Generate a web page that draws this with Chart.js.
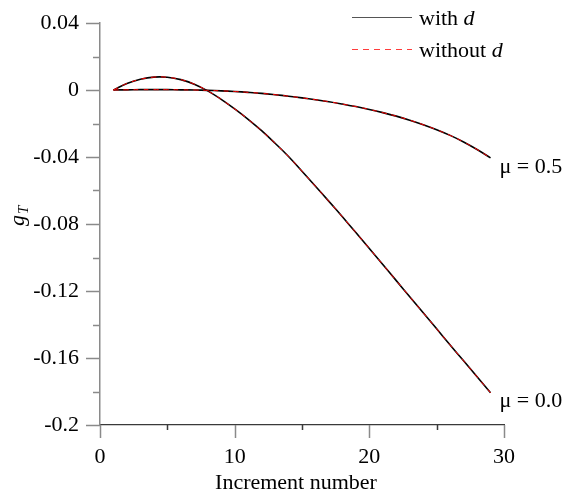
<!DOCTYPE html>
<html>
<head>
<meta charset="utf-8">
<title>g_T vs increment number</title>
<script src="https://cdn.jsdelivr.net/npm/chart.js@4.4.0/dist/chart.umd.min.js"></script>
<style>
    html, body { margin: 0; padding: 0; background: #fff; }
    #wrap { width: 566px; height: 495px; position: relative; }
</style>
</head>
<body>
<div id="wrap"><canvas id="gtChart"></canvas></div>
<script>
// increment numbers (x)
const increments = [1, 2, 3, 4, 5, 6, 7, 8, 9, 10, 11, 12, 13, 14, 15,
                    16, 17, 18, 19, 20, 21, 22, 23, 24, 25, 26, 27, 28, 29];

// g_T, friction coefficient 0.0
const gtMu00 = [0, 0.0039, 0.0064, 0.0077, 0.0076, 0.0062, 0.0035, -0.0005, -0.0056, -0.0113,
                -0.0175, -0.0243, -0.0318, -0.0397, -0.0485, -0.0575, -0.0665, -0.0757, -0.0851, -0.0946,
                -0.1042, -0.1138, -0.1234, -0.1330, -0.1426, -0.1522, -0.1617, -0.1712, -0.1807];

// g_T, friction coefficient 0.5
const gtMu05 = [0, 0.0001, 0.0002, 0.0002, 0.0002, 0.0001, 0.0000, -0.0002, -0.0005, -0.0009,
                -0.0014, -0.0020, -0.0028, -0.0037, -0.0047, -0.0058, -0.0070, -0.0084, -0.0099, -0.0116,
                -0.0135, -0.0156, -0.0180, -0.0207, -0.0237, -0.0271, -0.0310, -0.0355, -0.0405];

// axis ticks
const xMajorTicks = [0, 10, 20, 30];
const xMinorTicks = [5, 15, 25];
const xTickLabels = ['0', '10', '20', '30'];
const yMajorTicks = [0.04, 0, -0.04, -0.08, -0.12, -0.16, -0.2];
const yMinorTicks = [0.02, -0.02, -0.06, -0.1, -0.14, -0.18];
const yTickLabels = ['0.04', '0', '-0.04', '-0.08', '-0.12', '-0.16', '-0.2'];

// labels
const curveLabels = ['μ = 0.0', 'μ = 0.5'];
const legendLabels = ['with', 'without'];
const xTitle = 'Increment number';

const SERIF = '"Liberation Serif", "Times New Roman", Times, "DejaVu Serif", serif';

function toPoints(values) {
    return increments.map((x, i) => ({ x: x, y: values[i] }));
}

function solid(values) {
    return {
        data: toPoints(values),
        borderColor: '#000',
        borderWidth: 1.6,
        pointRadius: 0,
        tension: 0.4,
        fill: false
    };
}

function dashed(values) {
    return {
        data: toPoints(values),
        borderColor: '#ff0000',
        borderWidth: 1,
        borderDash: [5, 5],
        pointRadius: 0,
        tension: 0.4,
        fill: false
    };
}

// keep the label padding from pushing the plot area around
function noEdgePadding(s) {
    s.paddingTop = 0;
    s.paddingBottom = 0;
    s.paddingLeft = 0;
    s.paddingRight = 0;
}

// tick marks, curve labels, legend and axis titles
const decorations = {
    id: 'decorations',
    afterDraw(chart) {
        const ctx = chart.ctx;
        const xs = chart.scales.x;
        const ys = chart.scales.y;
        const area = chart.chartArea;

        ctx.save();

        // y ticks (outside, grey)
        ctx.strokeStyle = '#8a8a8a';
        ctx.lineWidth = 1.5;
        ctx.beginPath();
        yMajorTicks.forEach(v => {
            const y = Math.round(ys.getPixelForValue(v)) + 0.5;
            ctx.moveTo(area.left - 14, y);
            ctx.lineTo(area.left, y);
        });
        yMinorTicks.forEach(v => {
            const y = Math.round(ys.getPixelForValue(v)) + 0.5;
            ctx.moveTo(area.left - 7, y);
            ctx.lineTo(area.left, y);
        });
        ctx.stroke();

        // x ticks (outside)
        ctx.beginPath();
        xMajorTicks.forEach(v => {
            const x = Math.round(xs.getPixelForValue(v)) + 0.5;
            ctx.moveTo(x, area.bottom);
            ctx.lineTo(x, area.bottom + 13);
        });
        ctx.strokeStyle = '#8a8a8a';
        ctx.stroke();
        ctx.beginPath();
        xMinorTicks.forEach(v => {
            const x = Math.round(xs.getPixelForValue(v)) + 0.5;
            ctx.moveTo(x, area.bottom);
            ctx.lineTo(x, area.bottom + 5);
        });
        ctx.strokeStyle = '#3a3a3a';
        ctx.stroke();

        // curve labels at the last increment
        ctx.fillStyle = '#000';
        ctx.font = '22px ' + SERIF;
        ctx.textAlign = 'left';
        ctx.textBaseline = 'middle';
        [gtMu00, gtMu05].forEach((values, i) => {
            const last = values.length - 1;
            const x = xs.getPixelForValue(increments[last]);
            const y = ys.getPixelForValue(values[last]);
            ctx.fillText(curveLabels[i], x + 9, y + 9);
        });

        // legend
        const rows = [
            { y: 17, color: '#555', dash: [], width: 1 },
            { y: 49, color: '#ff3c3c', dash: [6, 5], width: 1.2 }
        ];
        rows.forEach((row, i) => {
            ctx.strokeStyle = row.color;
            ctx.lineWidth = row.width;
            ctx.setLineDash(row.dash);
            ctx.beginPath();
            ctx.moveTo(352, row.y + 0.5);
            ctx.lineTo(412, row.y + 0.5);
            ctx.stroke();
            ctx.setLineDash([]);

            ctx.font = '22px ' + SERIF;
            const text = legendLabels[i] + ' ';
            ctx.fillText(text, 419, row.y + 2);
            const w = ctx.measureText(text).width;
            ctx.font = 'italic 22px ' + SERIF;
            ctx.fillText('d', 419 + w, row.y + 2);
        });

        // x axis title
        ctx.font = '22px ' + SERIF;
        ctx.textAlign = 'center';
        ctx.fillText(xTitle, (area.left + area.right) / 2 - 6, 483);

        // y axis title: g_T, rotated
        ctx.translate(24, 226);
        ctx.rotate(-Math.PI / 2);
        ctx.textAlign = 'left';
        ctx.textBaseline = 'alphabetic';
        ctx.font = 'italic 22px ' + SERIF;
        ctx.fillText('g', 0, 0);
        const gw = ctx.measureText('g').width;
        ctx.font = 'italic 15px ' + SERIF;
        ctx.fillText('T', gw + 1, 4);

        ctx.restore();
    }
};

// dashed sets first so they are drawn on top
const chart = new Chart(document.getElementById('gtChart'), {
    type: 'line',
    data: {
        datasets: [
            dashed(gtMu00),
            dashed(gtMu05),
            solid(gtMu00),
            solid(gtMu05)
        ]
    },
    options: {
        responsive: true,
        maintainAspectRatio: false,
        animation: false,
        events: [],
        layout: { padding: { left: 0, right: 62, top: 23, bottom: 0 } },
        plugins: {
            legend: { display: false },
            tooltip: { enabled: false }
        },
        scales: {
            x: {
                type: 'linear',
                min: 0,
                max: 30,
                afterBuildTicks: s => {
                    s.ticks = xMajorTicks.concat(xMinorTicks)
                        .sort((a, b) => a - b)
                        .map(v => ({ value: v }));
                },
                afterFit: s => { s.height = 70; noEdgePadding(s); },
                ticks: {
                    autoSkip: false,
                    maxRotation: 0,
                    padding: 19,
                    color: '#000',
                    font: { family: SERIF, size: 22 },
                    callback: v => {
                        const idx = xMajorTicks.indexOf(v);
                        return idx >= 0 ? xTickLabels[idx] : '';
                    }
                },
                grid: { display: false, drawTicks: false },
                border: { display: true, color: '#3a3a3a', width: 1.3 }
            },
            y: {
                type: 'linear',
                min: -0.2,
                max: 0.04,
                afterBuildTicks: s => {
                    s.ticks = yMajorTicks.concat(yMinorTicks)
                        .sort((a, b) => a - b)
                        .map(v => ({ value: v }));
                },
                afterFit: s => { s.width = 100; noEdgePadding(s); },
                ticks: {
                    autoSkip: false,
                    padding: 21,
                    color: '#000',
                    font: { family: SERIF, size: 22 },
                    callback: v => {
                        const idx = yMajorTicks.indexOf(v);
                        return idx >= 0 ? yTickLabels[idx] : '';
                    }
                },
                grid: { display: false, drawTicks: false },
                border: { display: true, color: '#8a8a8a', width: 1.5 }
            }
        }
    },
    plugins: [decorations]
});
</script>
</body>
</html>
